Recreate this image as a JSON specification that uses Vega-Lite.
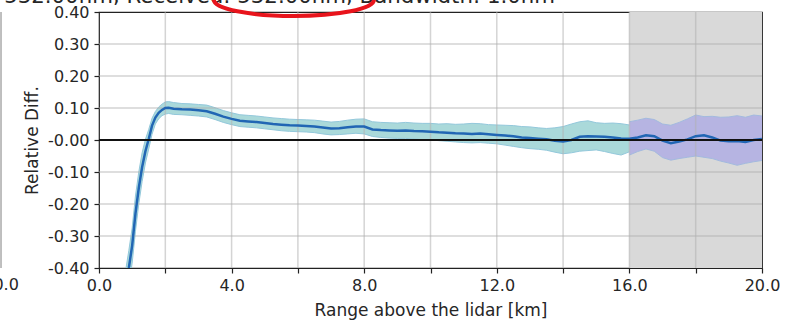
{
  "$schema": "https://vega.github.io/schema/vega-lite/v6.json",
  "autosize": {"type": "none"},
  "padding": {"left": 99, "top": 12, "right": 27, "bottom": 54},
  "width": 663,
  "height": 256,
  "background": "white",
  "data": {"values": [{}]},
  "config": {
    "font": "DejaVu Sans",
    "view": {"stroke": "#222", "strokeWidth": 1.2},
    "axis": {
      "labelFont": "DejaVu Sans", "titleFont": "DejaVu Sans",
      "labelFontSize": 16, "titleFontSize": 17, "titleFontWeight": "normal",
      "labelColor": "#262626", "titleColor": "#262626",
      "tickColor": "#222", "tickSize": 5, "tickWidth": 1.2,
      "domain": false, "grid": false, "labelOverlap": false, "labelFlush": false
    }
  },
  "datasets": {
    "line": [
      {"x": 0.8, "y": -0.47}, {"x": 0.9, "y": -0.4}, {"x": 1.0, "y": -0.33}, {"x": 1.1, "y": -0.23},
      {"x": 1.2, "y": -0.15}, {"x": 1.3, "y": -0.085}, {"x": 1.4, "y": -0.035}, {"x": 1.5, "y": 0.003},
      {"x": 1.6, "y": 0.045}, {"x": 1.7, "y": 0.07}, {"x": 1.8, "y": 0.085}, {"x": 1.9, "y": 0.094},
      {"x": 2.0, "y": 0.1}, {"x": 2.1, "y": 0.101}, {"x": 2.25, "y": 0.098}, {"x": 2.5, "y": 0.096},
      {"x": 2.75, "y": 0.095}, {"x": 3.0, "y": 0.093}, {"x": 3.25, "y": 0.09}, {"x": 3.5, "y": 0.082},
      {"x": 3.75, "y": 0.073}, {"x": 4.0, "y": 0.066}, {"x": 4.25, "y": 0.06}, {"x": 4.5, "y": 0.058},
      {"x": 4.75, "y": 0.056}, {"x": 5.0, "y": 0.053}, {"x": 5.25, "y": 0.05}, {"x": 5.5, "y": 0.048},
      {"x": 5.75, "y": 0.046}, {"x": 6.0, "y": 0.045}, {"x": 6.25, "y": 0.044}, {"x": 6.5, "y": 0.042},
      {"x": 6.75, "y": 0.039}, {"x": 7.0, "y": 0.036}, {"x": 7.25, "y": 0.037}, {"x": 7.5, "y": 0.04},
      {"x": 7.75, "y": 0.042}, {"x": 8.0, "y": 0.042}, {"x": 8.25, "y": 0.033}, {"x": 8.5, "y": 0.031},
      {"x": 8.75, "y": 0.03}, {"x": 9.0, "y": 0.029}, {"x": 9.25, "y": 0.03}, {"x": 9.5, "y": 0.028},
      {"x": 9.75, "y": 0.027}, {"x": 10.0, "y": 0.026}, {"x": 10.25, "y": 0.024}, {"x": 10.5, "y": 0.023},
      {"x": 10.75, "y": 0.021}, {"x": 11.0, "y": 0.02}, {"x": 11.25, "y": 0.019}, {"x": 11.5, "y": 0.02},
      {"x": 11.75, "y": 0.018}, {"x": 12.0, "y": 0.016}, {"x": 12.25, "y": 0.014}, {"x": 12.5, "y": 0.012},
      {"x": 12.75, "y": 0.008}, {"x": 13.0, "y": 0.006}, {"x": 13.25, "y": 0.004}, {"x": 13.5, "y": 0.002},
      {"x": 13.75, "y": -0.002}, {"x": 14.0, "y": -0.005}, {"x": 14.25, "y": 0.0}, {"x": 14.5, "y": 0.01},
      {"x": 14.75, "y": 0.012}, {"x": 15.0, "y": 0.011}, {"x": 15.25, "y": 0.01}, {"x": 15.5, "y": 0.008},
      {"x": 15.75, "y": 0.005}, {"x": 16.0, "y": 0.004}, {"x": 16.25, "y": 0.008}, {"x": 16.5, "y": 0.015},
      {"x": 16.75, "y": 0.012}, {"x": 17.0, "y": -0.002}, {"x": 17.25, "y": -0.01}, {"x": 17.5, "y": -0.005},
      {"x": 17.75, "y": 0.002}, {"x": 18.0, "y": 0.012}, {"x": 18.25, "y": 0.015}, {"x": 18.5, "y": 0.008},
      {"x": 18.75, "y": -0.002}, {"x": 19.0, "y": -0.004}, {"x": 19.25, "y": -0.003}, {"x": 19.5, "y": -0.006},
      {"x": 19.75, "y": 0.0}, {"x": 20.0, "y": 0.003}
    ],
    "bandA": [
      {"x": 0.8, "lo": -0.53, "hi": -0.41}, {"x": 0.9, "lo": -0.455, "hi": -0.345}, {"x": 1.0, "lo": -0.385, "hi": -0.275},
      {"x": 1.1, "lo": -0.285, "hi": -0.175}, {"x": 1.2, "lo": -0.2, "hi": -0.1}, {"x": 1.3, "lo": -0.13, "hi": -0.04},
      {"x": 1.4, "lo": -0.072, "hi": 0.002}, {"x": 1.5, "lo": -0.028, "hi": 0.033}, {"x": 1.6, "lo": 0.018, "hi": 0.068},
      {"x": 1.7, "lo": 0.05, "hi": 0.089}, {"x": 1.8, "lo": 0.066, "hi": 0.103}, {"x": 1.9, "lo": 0.076, "hi": 0.112},
      {"x": 2.0, "lo": 0.081, "hi": 0.119}, {"x": 2.1, "lo": 0.083, "hi": 0.12}, {"x": 2.25, "lo": 0.08, "hi": 0.117},
      {"x": 2.5, "lo": 0.079, "hi": 0.114}, {"x": 2.75, "lo": 0.077, "hi": 0.113}, {"x": 3.0, "lo": 0.075, "hi": 0.111},
      {"x": 3.25, "lo": 0.072, "hi": 0.109}, {"x": 3.5, "lo": 0.064, "hi": 0.101}, {"x": 3.75, "lo": 0.055, "hi": 0.092},
      {"x": 4.0, "lo": 0.048, "hi": 0.085}, {"x": 4.25, "lo": 0.042, "hi": 0.079}, {"x": 4.5, "lo": 0.04, "hi": 0.077},
      {"x": 4.75, "lo": 0.038, "hi": 0.075}, {"x": 5.0, "lo": 0.035, "hi": 0.072}, {"x": 5.25, "lo": 0.032, "hi": 0.069},
      {"x": 5.5, "lo": 0.029, "hi": 0.067}, {"x": 5.75, "lo": 0.027, "hi": 0.065}, {"x": 6.0, "lo": 0.026, "hi": 0.064},
      {"x": 6.25, "lo": 0.025, "hi": 0.063}, {"x": 6.5, "lo": 0.023, "hi": 0.062}, {"x": 6.75, "lo": 0.019, "hi": 0.059},
      {"x": 7.0, "lo": 0.016, "hi": 0.056}, {"x": 7.25, "lo": 0.017, "hi": 0.058}, {"x": 7.5, "lo": 0.019, "hi": 0.062},
      {"x": 7.75, "lo": 0.021, "hi": 0.065}, {"x": 8.0, "lo": 0.019, "hi": 0.066}, {"x": 8.25, "lo": 0.011, "hi": 0.057},
      {"x": 8.5, "lo": 0.008, "hi": 0.055}, {"x": 8.75, "lo": 0.006, "hi": 0.054}, {"x": 9.0, "lo": 0.005, "hi": 0.053},
      {"x": 9.25, "lo": 0.005, "hi": 0.055}, {"x": 9.5, "lo": 0.003, "hi": 0.053}, {"x": 9.75, "lo": 0.001, "hi": 0.052},
      {"x": 10.0, "lo": 0.0, "hi": 0.052}, {"x": 10.25, "lo": -0.002, "hi": 0.05}, {"x": 10.5, "lo": -0.004, "hi": 0.051},
      {"x": 10.75, "lo": -0.006, "hi": 0.049}, {"x": 11.0, "lo": -0.008, "hi": 0.05}, {"x": 11.25, "lo": -0.009, "hi": 0.052},
      {"x": 11.5, "lo": -0.008, "hi": 0.051}, {"x": 11.75, "lo": -0.01, "hi": 0.048}, {"x": 12.0, "lo": -0.012, "hi": 0.047},
      {"x": 12.25, "lo": -0.016, "hi": 0.046}, {"x": 12.5, "lo": -0.02, "hi": 0.045}, {"x": 12.75, "lo": -0.024, "hi": 0.042},
      {"x": 13.0, "lo": -0.027, "hi": 0.041}, {"x": 13.25, "lo": -0.029, "hi": 0.038}, {"x": 13.5, "lo": -0.032, "hi": 0.036},
      {"x": 13.75, "lo": -0.038, "hi": 0.038}, {"x": 14.0, "lo": -0.043, "hi": 0.042}, {"x": 14.25, "lo": -0.04, "hi": 0.05},
      {"x": 14.5, "lo": -0.035, "hi": 0.057}, {"x": 14.75, "lo": -0.033, "hi": 0.06}, {"x": 15.0, "lo": -0.031, "hi": 0.054},
      {"x": 15.25, "lo": -0.036, "hi": 0.052}, {"x": 15.5, "lo": -0.042, "hi": 0.053}, {"x": 15.75, "lo": -0.047, "hi": 0.051},
      {"x": 16.0, "lo": -0.037, "hi": 0.047}
    ],
    "bandB": [
      {"x": 16.0, "lo": -0.047, "hi": 0.057}, {"x": 16.25, "lo": -0.036, "hi": 0.062}, {"x": 16.5, "lo": -0.028, "hi": 0.068},
      {"x": 16.75, "lo": -0.035, "hi": 0.064}, {"x": 17.0, "lo": -0.055, "hi": 0.05}, {"x": 17.25, "lo": -0.063, "hi": 0.046},
      {"x": 17.5, "lo": -0.058, "hi": 0.055}, {"x": 17.75, "lo": -0.054, "hi": 0.066}, {"x": 18.0, "lo": -0.05, "hi": 0.078},
      {"x": 18.25, "lo": -0.054, "hi": 0.073}, {"x": 18.5, "lo": -0.058, "hi": 0.074}, {"x": 18.75, "lo": -0.066, "hi": 0.071},
      {"x": 19.0, "lo": -0.072, "hi": 0.072}, {"x": 19.25, "lo": -0.079, "hi": 0.076}, {"x": 19.5, "lo": -0.073, "hi": 0.071},
      {"x": 19.75, "lo": -0.068, "hi": 0.078}, {"x": 20.0, "lo": -0.064, "hi": 0.075}
    ],
    "gridx": [{"g": 2}, {"g": 4}, {"g": 6}, {"g": 8}, {"g": 10}, {"g": 12}, {"g": 14}, {"g": 16}, {"g": 18}],
    "gridy": [{"g": -0.3}, {"g": -0.2}, {"g": -0.1}, {"g": 0.1}, {"g": 0.2}, {"g": 0.3}]
  },
  "layer": [
    {
      "mark": {"type": "rect", "color": "#d9d9d9"},
      "encoding": {
        "x": {"datum": 16, "type": "quantitative", "scale": {"domain": [0, 20], "nice": false, "zero": false},
          "axis": {"values": [0, 2, 4, 6, 8, 10, 12, 14, 16, 18, 20],
            "labelExpr": "datum.value % 4 == 0 ? format(datum.value, '.1f') : ''",
            "title": "Range above the lidar [km]", "labelPadding": 4, "titlePadding": 9, "labelOverlap": false}},
        "x2": {"datum": 20},
        "y": {"datum": -0.4, "type": "quantitative", "scale": {"domain": [-0.4, 0.4], "nice": false, "zero": false},
          "axis": {"values": [-0.4, -0.3, -0.2, -0.1, 0, 0.1, 0.2, 0.3, 0.4], "tickCount": 9,
            "labelExpr": "datum.value == 0 ? '-0.00' : replace(format(datum.value, '.2f'), '\u2212', '-')",
            "title": "Relative Diff.", "labelPadding": 5, "titlePadding": 6, "labelOverlap": false, "labelBound": false}},
        "y2": {"datum": 0.4}
      }
    },
    {
      "data": {"name": "bandA"},
      "mark": {"type": "area", "color": "#aad9da", "opacity": 1, "clip": true},
      "encoding": {"x": {"field": "x", "type": "quantitative"}, "y": {"field": "lo", "type": "quantitative"}, "y2": {"field": "hi"}}
    },
    {
      "data": {"name": "bandA"},
      "mark": {"type": "line", "color": "#93c8db", "strokeWidth": 1, "clip": true},
      "encoding": {"x": {"field": "x", "type": "quantitative"}, "y": {"field": "lo", "type": "quantitative"}}
    },
    {
      "data": {"name": "bandA"},
      "mark": {"type": "line", "color": "#93c8db", "strokeWidth": 1, "clip": true},
      "encoding": {"x": {"field": "x", "type": "quantitative"}, "y": {"field": "hi", "type": "quantitative"}}
    },
    {
      "data": {"name": "bandB"},
      "mark": {"type": "area", "color": "#b6b4e2", "opacity": 1, "clip": true},
      "encoding": {"x": {"field": "x", "type": "quantitative"}, "y": {"field": "lo", "type": "quantitative"}, "y2": {"field": "hi"}}
    },
    {
      "data": {"name": "bandB"},
      "mark": {"type": "line", "color": "#a3badf", "strokeWidth": 1, "clip": true},
      "encoding": {"x": {"field": "x", "type": "quantitative"}, "y": {"field": "lo", "type": "quantitative"}}
    },
    {
      "data": {"name": "bandB"},
      "mark": {"type": "line", "color": "#a3badf", "strokeWidth": 1, "clip": true},
      "encoding": {"x": {"field": "x", "type": "quantitative"}, "y": {"field": "hi", "type": "quantitative"}}
    },
    {
      "data": {"name": "gridx"},
      "mark": {"type": "rule", "color": "#b0b0b0", "opacity": 0.55, "strokeWidth": 1.5},
      "encoding": {"x": {"field": "g", "type": "quantitative"}}
    },
    {
      "data": {"name": "gridy"},
      "mark": {"type": "rule", "color": "#b0b0b0", "opacity": 0.55, "strokeWidth": 1.5},
      "encoding": {"y": {"field": "g", "type": "quantitative"}}
    },
    {
      "data": {"name": "line"},
      "mark": {"type": "line", "color": "#2166b4", "strokeWidth": 2.5, "clip": true},
      "encoding": {"x": {"field": "x", "type": "quantitative"}, "y": {"field": "y", "type": "quantitative"}}
    },
    {
      "mark": {"type": "rule", "color": "#111", "strokeWidth": 2},
      "encoding": {"y": {"datum": 0, "type": "quantitative"}}
    },
    {
      "mark": {"type": "rule", "color": "#aaaaaa", "strokeWidth": 1.5},
      "encoding": {"x": {"datum": -2.956, "type": "quantitative"}, "y": {"datum": -0.4}, "y2": {"datum": 0.4}}
    },
    {
      "mark": {"type": "text", "font": "DejaVu Sans", "fontSize": 16, "color": "#262626", "align": "center", "baseline": "top", "dy": 9},
      "encoding": {"x": {"datum": -2.956, "type": "quantitative"}, "y": {"datum": -0.4}, "text": {"value": "20.0"}}
    },
    {
      "mark": {"type": "text", "font": "DejaVu Sans", "fontSize": 21.3, "color": "#262626", "align": "right", "baseline": "alphabetic"},
      "encoding": {"x": {"datum": 13.756, "type": "quantitative"}, "y": {"datum": 0.4266}, "text": {"value": "Emitted: 532.00nm, Received: 532.00nm, Bandwidth: 1.0nm"}}
    },
    {
      "mark": {"type": "point", "shape": "M-1,0A1,0.2 0 1,0 1,0A1,0.2 0 1,0 -1,0Z", "size": 25600, "filled": false, "stroke": "#e8141c", "strokeWidth": 4, "opacity": 1},
      "encoding": {"x": {"datum": 5.88, "type": "quantitative"}, "y": {"datum": 0.4375}}
    }
  ]
}
